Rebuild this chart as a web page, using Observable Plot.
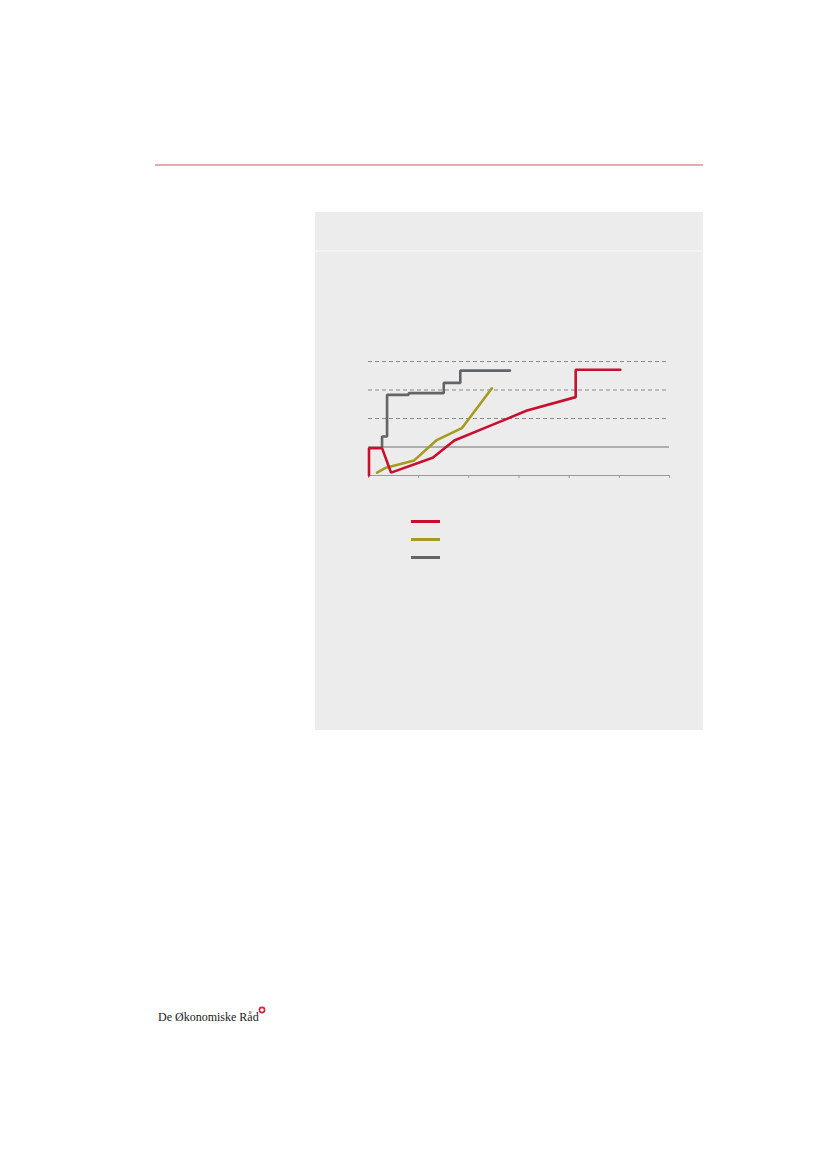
<!DOCTYPE html>
<html>
<head>
<meta charset="utf-8">
<script src="https://cdn.jsdelivr.net/npm/d3@7"></script>
<script src="https://cdn.jsdelivr.net/npm/@observablehq/plot@0.6"></script>
<style>
  html, body { margin: 0; padding: 0; background: #fff; }
  #page { position: relative; width: 827px; height: 1169px; overflow: hidden; }
  .abs { position: absolute; }
</style>
</head>
<body>
<div id="page">
  <div class="abs" style="left:155px;top:164px;width:548px;height:2px;background:#e9a9b0;"></div>
  <div class="abs" style="left:315px;top:212px;width:388px;height:518px;background:#ececec;"></div>
  <div class="abs" style="left:315px;top:250px;width:388px;height:2px;background:#f4f4f4;"></div>
  <div id="chart" class="abs" style="left:315px;top:340px;"></div>
  <div id="legend" class="abs" style="left:411px;top:512px;"></div>
  <div class="abs" style="left:158px;top:1010px;font-family:'Liberation Serif','DejaVu Serif',serif;font-size:12px;color:#1a1a1a;white-space:nowrap;">De Økonomiske Råd</div>
  <svg class="abs" style="left:257px;top:1005px;" width="10" height="10"><circle cx="5" cy="5" r="2.6" fill="none" stroke="#d4213d" stroke-width="1.6"/></svg>
</div>
<script>
// Series (x in axis units 0–6, y in grid units 0–4)
const redX   = [0.01, 0.01, 0.27, 0.45, 1.28, 1.71, 2.43, 3.16, 4.13, 4.13, 5.02];
const redY   = [0, 0.96, 0.96, 0.10, 0.62, 1.23, 1.75, 2.28, 2.75, 3.71, 3.71];
const oliveX = [0.17, 0.33, 0.91, 1.35, 1.86, 2.46];
const oliveY = [0.10, 0.26, 0.53, 1.23, 1.66, 3.06];
const grayX  = [0.27, 0.27, 0.37, 0.37, 0.80, 0.80, 1.50, 1.50, 1.83, 1.83, 2.82];
const grayY  = [1.02, 1.37, 1.37, 2.83, 2.83, 2.89, 2.89, 3.25, 3.25, 3.68, 3.68];
const xTicks = [0, 1, 2, 3, 4, 5, 6];
const dashedGrid = [2, 3, 4];
const solidRef = [1];
const seriesColors = ["#c8102e", "#a59c1f", "#636466"];

const toRows = (xs, ys) => xs.map((x, i) => ({x, y: ys[i]}));
const red = toRows(redX, redY);
const olive = toRows(oliveX, oliveY);
const gray = toRows(grayX, grayY);

const chart = Plot.plot({
  width: 388,
  height: 156,
  marginLeft: 53,
  marginRight: 34,
  marginTop: 21,
  marginBottom: 21,
  style: {background: "transparent", overflow: "visible"},
  x: {domain: [0, 6], axis: null},
  y: {domain: [0, 4], axis: null},
  marks: [
    Plot.ruleY(dashedGrid, {stroke: "#8a8a8a", strokeWidth: 1, strokeDasharray: "4,3"}),
    Plot.ruleY(solidRef, {stroke: "#9b9b9b", strokeWidth: 1.5}),
    Plot.ruleY([0], {stroke: "#9a9a9a", strokeWidth: 1}),
    Plot.axisX({ticks: xTicks, tickFormat: () => "", tickSize: 3, stroke: "#9a9a9a", label: null}),
    Plot.line(gray, {x: "x", y: "y", stroke: seriesColors[2], strokeWidth: 2.6, strokeLinejoin: "miter"}),
    Plot.line(olive, {x: "x", y: "y", stroke: seriesColors[1], strokeWidth: 2.6, strokeLinejoin: "miter"}),
    Plot.line(red, {x: "x", y: "y", stroke: seriesColors[0], strokeWidth: 2.6, strokeLinejoin: "miter"})
  ]
});
document.getElementById("chart").appendChild(chart);

const legend = document.getElementById("legend");
seriesColors.forEach((c, i) => {
  const d = document.createElement("div");
  d.style.cssText = `position:absolute;left:0;top:${8 + i * 18}px;width:29px;height:3px;background:${c};`;
  legend.appendChild(d);
});
</script>
</body>
</html>
